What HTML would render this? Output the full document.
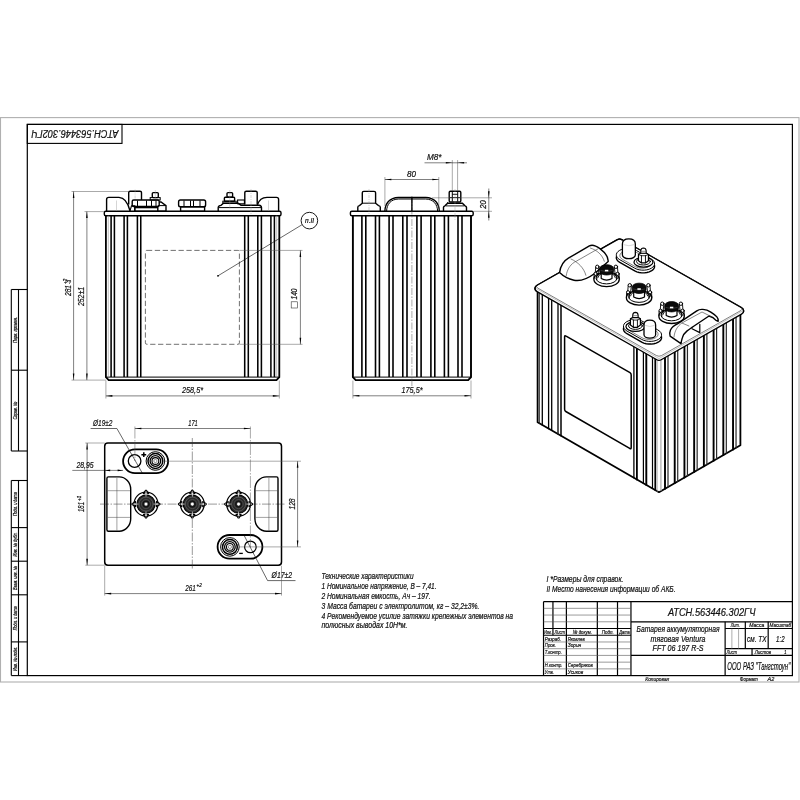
<!DOCTYPE html>
<html lang="ru"><head><meta charset="utf-8"><title>АТСН.563446.302ГЧ</title>
<style>
html,body{margin:0;padding:0;background:#fff;}
body{width:800px;height:800px;overflow:hidden;}
svg{display:block;font-family:"Liberation Sans",sans-serif;will-change:transform;}
text{stroke:#111;stroke-width:0.22px;paint-order:stroke;}
</style></head><body>
<svg width="800" height="800" viewBox="0 0 800 800">
<rect x="0" y="0" width="800" height="800" fill="#fff"/>
<rect x="0.50" y="117.60" width="798.50" height="564.40" rx="0" stroke="#b0b0b0" stroke-width="1.1" fill="none" />
<rect x="27.30" y="124.40" width="765.10" height="551.20" rx="0" stroke="#000" stroke-width="1.2" fill="none" />
<rect x="27.30" y="124.40" width="94.70" height="19.00" rx="0" stroke="#000" stroke-width="1.1" fill="none" />
<text x="0" y="0" font-size="10.5" font-style="italic" fill="#111" textLength="87" lengthAdjust="spacingAndGlyphs" transform="translate(118.5 130.2) rotate(180)">АТСН.563446.302ГЧ</text>
<line x1="11.30" y1="289.50" x2="11.30" y2="451.00" stroke="#000" stroke-width="1.1" />
<line x1="18.50" y1="289.50" x2="18.50" y2="451.00" stroke="#000" stroke-width="1.1" />
<line x1="11.30" y1="289.50" x2="27.30" y2="289.50" stroke="#000" stroke-width="1.1" />
<line x1="11.30" y1="370.20" x2="27.30" y2="370.20" stroke="#000" stroke-width="1.1" />
<line x1="11.30" y1="451.00" x2="27.30" y2="451.00" stroke="#000" stroke-width="1.1" />
<text x="0" y="0" font-size="5" font-style="italic" fill="#111" text-anchor="middle" textLength="26" lengthAdjust="spacingAndGlyphs" transform="translate(16.6 329.9) rotate(-90)">Перв. примен.</text>
<text x="0" y="0" font-size="5" font-style="italic" fill="#111" text-anchor="middle" textLength="18" lengthAdjust="spacingAndGlyphs" transform="translate(16.6 410.6) rotate(-90)">Справ. №</text>
<line x1="11.30" y1="480.50" x2="11.30" y2="675.60" stroke="#000" stroke-width="1.1" />
<line x1="18.50" y1="480.50" x2="18.50" y2="675.60" stroke="#000" stroke-width="1.1" />
<line x1="11.30" y1="480.50" x2="27.30" y2="480.50" stroke="#000" stroke-width="1.1" />
<line x1="11.30" y1="527.60" x2="27.30" y2="527.60" stroke="#000" stroke-width="1.1" />
<line x1="11.30" y1="561.20" x2="27.30" y2="561.20" stroke="#000" stroke-width="1.1" />
<line x1="11.30" y1="594.80" x2="27.30" y2="594.80" stroke="#000" stroke-width="1.1" />
<line x1="11.30" y1="641.90" x2="27.30" y2="641.90" stroke="#000" stroke-width="1.1" />
<line x1="11.30" y1="675.60" x2="27.30" y2="675.60" stroke="#000" stroke-width="1.1" />
<text x="0" y="0" font-size="5" font-style="italic" fill="#111" text-anchor="middle" textLength="24" lengthAdjust="spacingAndGlyphs" transform="translate(16.6 504.1) rotate(-90)">Подп. и дата</text>
<text x="0" y="0" font-size="5" font-style="italic" fill="#111" text-anchor="middle" textLength="24" lengthAdjust="spacingAndGlyphs" transform="translate(16.6 544.4) rotate(-90)">Инв. № дубл.</text>
<text x="0" y="0" font-size="5" font-style="italic" fill="#111" text-anchor="middle" textLength="24" lengthAdjust="spacingAndGlyphs" transform="translate(16.6 578.0) rotate(-90)">Взам. инв. №</text>
<text x="0" y="0" font-size="5" font-style="italic" fill="#111" text-anchor="middle" textLength="24" lengthAdjust="spacingAndGlyphs" transform="translate(16.6 618.3) rotate(-90)">Подп. и дата</text>
<text x="0" y="0" font-size="5" font-style="italic" fill="#111" text-anchor="middle" textLength="24" lengthAdjust="spacingAndGlyphs" transform="translate(16.6 658.8) rotate(-90)">Инв. № подл.</text>
<line x1="543.52" y1="601.61" x2="792.40" y2="601.61" stroke="#000" stroke-width="1.2" />
<line x1="543.52" y1="601.61" x2="543.52" y2="675.60" stroke="#000" stroke-width="1.2" />
<line x1="552.94" y1="601.61" x2="552.94" y2="635.24" stroke="#000" stroke-width="1.2" />
<line x1="566.39" y1="601.61" x2="566.39" y2="675.60" stroke="#000" stroke-width="1.2" />
<line x1="597.33" y1="601.61" x2="597.33" y2="675.60" stroke="#000" stroke-width="1.2" />
<line x1="617.51" y1="601.61" x2="617.51" y2="675.60" stroke="#000" stroke-width="1.2" />
<line x1="630.96" y1="601.61" x2="630.96" y2="675.60" stroke="#000" stroke-width="1.2" />
<line x1="543.52" y1="608.34" x2="630.96" y2="608.34" stroke="#555" stroke-width="0.6" />
<line x1="543.52" y1="615.06" x2="630.96" y2="615.06" stroke="#555" stroke-width="0.6" />
<line x1="543.52" y1="621.79" x2="630.96" y2="621.79" stroke="#555" stroke-width="0.6" />
<line x1="543.52" y1="628.51" x2="630.96" y2="628.51" stroke="#000" stroke-width="1.2" />
<line x1="543.52" y1="635.24" x2="630.96" y2="635.24" stroke="#000" stroke-width="1.2" />
<line x1="543.52" y1="641.97" x2="630.96" y2="641.97" stroke="#555" stroke-width="0.6" />
<line x1="543.52" y1="648.69" x2="630.96" y2="648.69" stroke="#555" stroke-width="0.6" />
<line x1="543.52" y1="655.42" x2="630.96" y2="655.42" stroke="#555" stroke-width="0.6" />
<line x1="543.52" y1="662.15" x2="630.96" y2="662.15" stroke="#555" stroke-width="0.6" />
<line x1="543.52" y1="668.87" x2="630.96" y2="668.87" stroke="#555" stroke-width="0.6" />
<line x1="630.96" y1="621.79" x2="792.40" y2="621.79" stroke="#000" stroke-width="1.2" />
<line x1="630.96" y1="655.42" x2="792.40" y2="655.42" stroke="#000" stroke-width="1.2" />
<line x1="725.13" y1="621.79" x2="725.13" y2="675.60" stroke="#000" stroke-width="1.2" />
<line x1="725.13" y1="628.51" x2="792.40" y2="628.51" stroke="#000" stroke-width="1.2" />
<line x1="725.13" y1="648.69" x2="792.40" y2="648.69" stroke="#000" stroke-width="1.2" />
<line x1="745.31" y1="621.79" x2="745.31" y2="648.69" stroke="#000" stroke-width="1.2" />
<line x1="768.18" y1="621.79" x2="768.18" y2="648.69" stroke="#000" stroke-width="1.2" />
<line x1="752.04" y1="648.69" x2="752.04" y2="655.42" stroke="#000" stroke-width="1.2" />
<line x1="731.86" y1="628.51" x2="731.86" y2="648.69" stroke="#777" stroke-width="0.6" />
<line x1="738.59" y1="628.51" x2="738.59" y2="648.69" stroke="#777" stroke-width="0.6" />
<text x="711.68" y="615.60" font-size="11" font-style="italic" text-anchor="middle" fill="#111" textLength="87.5" lengthAdjust="spacingAndGlyphs" >АТСН.563446.302ГЧ</text>
<text x="678.05" y="632.40" font-size="8.8" font-style="italic" text-anchor="middle" fill="#111" textLength="83.0" lengthAdjust="spacingAndGlyphs" >Батарея аккумуляторная</text>
<text x="678.05" y="641.60" font-size="8.8" font-style="italic" text-anchor="middle" fill="#111" textLength="55.0" lengthAdjust="spacingAndGlyphs" >тяговая Ventura</text>
<text x="678.05" y="650.80" font-size="8.8" font-style="italic" text-anchor="middle" fill="#111" textLength="51.0" lengthAdjust="spacingAndGlyphs" >FFT 06 197 R-S</text>
<text x="758.77" y="669.80" font-size="11" font-style="italic" text-anchor="middle" fill="#111" textLength="63.0" lengthAdjust="spacingAndGlyphs" >ООО РАЗ &quot;Тангстоун&quot;</text>
<text x="735.22" y="627.11" font-size="6.2" font-style="italic" text-anchor="middle" fill="#111" textLength="9.0" lengthAdjust="spacingAndGlyphs" >Лит.</text>
<text x="756.75" y="627.11" font-size="6.2" font-style="italic" text-anchor="middle" fill="#111" textLength="15.0" lengthAdjust="spacingAndGlyphs" >Масса</text>
<text x="780.29" y="627.11" font-size="6.2" font-style="italic" text-anchor="middle" fill="#111" textLength="21.5" lengthAdjust="spacingAndGlyphs" >Масштаб</text>
<text x="756.75" y="641.90" font-size="9.6" font-style="italic" text-anchor="middle" fill="#111" textLength="19.5" lengthAdjust="spacingAndGlyphs" >см. ТХ</text>
<text x="780.29" y="641.90" font-size="9.6" font-style="italic" text-anchor="middle" fill="#111" textLength="8.5" lengthAdjust="spacingAndGlyphs" >1:2</text>
<text x="726.48" y="654.02" font-size="6.2" font-style="italic" text-anchor="start" fill="#111" textLength="10.5" lengthAdjust="spacingAndGlyphs" >Лист</text>
<text x="754.73" y="654.02" font-size="6.2" font-style="italic" text-anchor="start" fill="#111" textLength="16.5" lengthAdjust="spacingAndGlyphs" >Листов</text>
<text x="784.33" y="654.02" font-size="6.2" font-style="italic" text-anchor="start" fill="#111" textLength="2.2" lengthAdjust="spacingAndGlyphs" >1</text>
<text x="544.19" y="633.84" font-size="6.2" font-style="italic" text-anchor="start" fill="#111" textLength="7.6" lengthAdjust="spacingAndGlyphs" >Изм.</text>
<text x="554.42" y="633.84" font-size="6.2" font-style="italic" text-anchor="start" fill="#111" textLength="10.5" lengthAdjust="spacingAndGlyphs" >Лист</text>
<text x="572.85" y="633.84" font-size="6.2" font-style="italic" text-anchor="start" fill="#111" textLength="19.0" lengthAdjust="spacingAndGlyphs" >№ докум.</text>
<text x="601.77" y="633.84" font-size="6.2" font-style="italic" text-anchor="start" fill="#111" textLength="12.0" lengthAdjust="spacingAndGlyphs" >Подп.</text>
<text x="619.26" y="633.84" font-size="6.2" font-style="italic" text-anchor="start" fill="#111" textLength="10.5" lengthAdjust="spacingAndGlyphs" >Дата</text>
<text x="544.86" y="640.57" font-size="6.2" font-style="italic" text-anchor="start" fill="#111" textLength="16.0" lengthAdjust="spacingAndGlyphs" >Разраб.</text>
<text x="544.86" y="647.29" font-size="6.2" font-style="italic" text-anchor="start" fill="#111" textLength="11.0" lengthAdjust="spacingAndGlyphs" >Пров.</text>
<text x="544.86" y="654.02" font-size="6.2" font-style="italic" text-anchor="start" fill="#111" textLength="17.0" lengthAdjust="spacingAndGlyphs" >Т.контр.</text>
<text x="544.86" y="667.47" font-size="6.2" font-style="italic" text-anchor="start" fill="#111" textLength="17.5" lengthAdjust="spacingAndGlyphs" >Н.контр.</text>
<text x="544.86" y="674.20" font-size="6.2" font-style="italic" text-anchor="start" fill="#111" textLength="9.0" lengthAdjust="spacingAndGlyphs" >Утв.</text>
<text x="567.73" y="640.57" font-size="6.2" font-style="italic" text-anchor="start" fill="#111" textLength="17.0" lengthAdjust="spacingAndGlyphs" >Яковлев</text>
<text x="567.73" y="647.29" font-size="6.2" font-style="italic" text-anchor="start" fill="#111" textLength="13.5" lengthAdjust="spacingAndGlyphs" >Зорин</text>
<text x="567.73" y="667.47" font-size="6.2" font-style="italic" text-anchor="start" fill="#111" textLength="25.0" lengthAdjust="spacingAndGlyphs" >Серебряков</text>
<text x="567.73" y="674.20" font-size="6.2" font-style="italic" text-anchor="start" fill="#111" textLength="15.5" lengthAdjust="spacingAndGlyphs" >Усиков</text>
<text x="645.30" y="681.40" font-size="6.2" font-style="italic" text-anchor="start" fill="#111" textLength="24.0" lengthAdjust="spacingAndGlyphs" >Копировал</text>
<text x="739.80" y="681.40" font-size="6.2" font-style="italic" text-anchor="start" fill="#111" textLength="18.0" lengthAdjust="spacingAndGlyphs" >Формат</text>
<text x="767.50" y="681.40" font-size="6.2" font-style="italic" text-anchor="start" fill="#111" textLength="6.8" lengthAdjust="spacingAndGlyphs" >А2</text>
<g id="front">
<rect x="104.30" y="211.30" width="176.70" height="4.40" rx="1.5" stroke="#000" stroke-width="1.4" fill="none" />
<path d="M105.9,215.7 L105.9,377.1 L108.7,380.1 L276.5,380.1 L279.3,377.1 L279.3,215.7" stroke="#000" stroke-width="1.8" fill="none" />
<line x1="106.40" y1="377.10" x2="278.80" y2="377.10" stroke="#000" stroke-width="1.0" />
<line x1="108.30" y1="215.70" x2="108.30" y2="377.10" stroke="#999" stroke-width="0.6" />
<line x1="111.10" y1="215.70" x2="111.10" y2="377.10" stroke="#000" stroke-width="1.55" />
<line x1="114.40" y1="215.70" x2="114.40" y2="377.10" stroke="#000" stroke-width="1.55" />
<line x1="124.10" y1="215.70" x2="124.10" y2="377.10" stroke="#000" stroke-width="1.55" />
<line x1="127.40" y1="215.70" x2="127.40" y2="377.10" stroke="#000" stroke-width="1.55" />
<line x1="137.40" y1="215.70" x2="137.40" y2="377.10" stroke="#000" stroke-width="1.55" />
<line x1="140.75" y1="215.70" x2="140.75" y2="377.10" stroke="#000" stroke-width="1.55" />
<line x1="244.70" y1="215.70" x2="244.70" y2="377.10" stroke="#000" stroke-width="1.55" />
<line x1="248.30" y1="215.70" x2="248.30" y2="377.10" stroke="#000" stroke-width="1.55" />
<line x1="257.80" y1="215.70" x2="257.80" y2="377.10" stroke="#000" stroke-width="1.55" />
<line x1="261.40" y1="215.70" x2="261.40" y2="377.10" stroke="#000" stroke-width="1.55" />
<line x1="270.90" y1="215.70" x2="270.90" y2="377.10" stroke="#000" stroke-width="1.55" />
<line x1="274.40" y1="215.70" x2="274.40" y2="377.10" stroke="#000" stroke-width="1.55" />
<line x1="276.70" y1="215.70" x2="276.70" y2="377.10" stroke="#999" stroke-width="0.6" />
<path d="M146.9,250.4 H237.9 Q239.4,250.4 239.4,251.9 V342.8 Q239.4,344.3 237.9,344.3 H146.9 Q145.4,344.3 145.4,342.8 V251.9 Q145.4,250.4 146.9,250.4 Z" stroke="#333" stroke-width="0.7" fill="none" stroke-dasharray="5.3 2.6"/>
<path d="M106.6,211.3 V199.5 Q106.6,197.4 108.8,197.4 H119 C125,197.6 128,203 130,210.8" stroke="#000" stroke-width="1.4" fill="none" />
<line x1="116.50" y1="200.50" x2="116.50" y2="210.50" stroke="#aaa" stroke-width="0.5" />
<path d="M128.7,204.5 V192.6 Q128.7,191.2 130.2,191.2 H140 Q141.5,191.2 141.5,192.6 V200" stroke="#000" stroke-width="1.4" fill="none" />
<line x1="135.10" y1="189.50" x2="135.10" y2="200.00" stroke="#999" stroke-width="0.4" stroke-dasharray="3 1 1 1"/>
<rect x="132.20" y="200.00" width="27.00" height="6.50" rx="1.5" stroke="#000" stroke-width="1.4" fill="none" />
<line x1="137.50" y1="200.50" x2="137.50" y2="206.00" stroke="#000" stroke-width="1.0" />
<line x1="146.50" y1="200.50" x2="146.50" y2="206.00" stroke="#000" stroke-width="1.0" />
<line x1="151.50" y1="200.50" x2="151.50" y2="206.00" stroke="#000" stroke-width="1.0" />
<line x1="156.00" y1="200.50" x2="156.00" y2="206.00" stroke="#000" stroke-width="1.0" />
<rect x="152.30" y="192.60" width="6.00" height="5.00" rx="1" stroke="#000" stroke-width="1.4" fill="none" />
<rect x="150.20" y="197.60" width="10.00" height="2.40" rx="0" stroke="#000" stroke-width="1.0" fill="none" />
<line x1="155.30" y1="190.00" x2="155.30" y2="199.00" stroke="#999" stroke-width="0.4" />
<path d="M130,210.8 L131.5,205.8 H134.8 V211.3" stroke="#000" stroke-width="1.1" fill="none" />
<rect x="134.80" y="207.60" width="23.00" height="3.70" rx="0" stroke="#000" stroke-width="1.4" fill="none" />
<path d="M159.2,202.0 H161 L166,205.6 V211.3 H157.8" stroke="#000" stroke-width="1.4" fill="none" />
<line x1="157.80" y1="205.60" x2="166.00" y2="205.60" stroke="#000" stroke-width="1.0" />
<rect x="178.60" y="200.00" width="27.00" height="6.80" rx="1.8" stroke="#000" stroke-width="1.4" fill="none" />
<line x1="184.00" y1="200.50" x2="184.00" y2="206.50" stroke="#000" stroke-width="1.0" />
<line x1="190.50" y1="200.50" x2="190.50" y2="206.50" stroke="#000" stroke-width="1.0" />
<line x1="193.50" y1="200.50" x2="193.50" y2="206.50" stroke="#000" stroke-width="1.0" />
<line x1="200.00" y1="200.50" x2="200.00" y2="206.50" stroke="#000" stroke-width="1.0" />
<rect x="180.60" y="206.80" width="24.00" height="4.50" rx="0" stroke="#000" stroke-width="1.4" fill="none" />
<path d="M218.2,211.3 V207.5 Q218.5,205.6 221,205.4 L223.5,203.2 H238 L241,205.2 H259 Q261.4,205.6 261.5,207.5 V211.3" stroke="#000" stroke-width="1.4" fill="none" />
<line x1="219.00" y1="207.60" x2="261.00" y2="207.60" stroke="#000" stroke-width="1.0" />
<rect x="227.00" y="192.60" width="5.60" height="4.60" rx="1" stroke="#000" stroke-width="1.4" fill="none" />
<rect x="224.40" y="197.20" width="10.20" height="4.00" rx="0.8" stroke="#000" stroke-width="1.4" fill="none" />
<rect x="222.80" y="201.20" width="13.40" height="2.00" rx="0" stroke="#000" stroke-width="1.0" fill="none" />
<line x1="229.80" y1="190.00" x2="229.80" y2="208.50" stroke="#999" stroke-width="0.4" />
<rect x="237.60" y="200.00" width="6.80" height="3.80" rx="0" stroke="#000" stroke-width="1.1" fill="none" />
<path d="M244.8,204.6 V192.6 Q244.8,191.2 246.3,191.2 H255.7 Q257.2,191.2 257.2,192.6 V204.6" stroke="#000" stroke-width="1.4" fill="none" />
<line x1="251.00" y1="189.00" x2="251.00" y2="214.00" stroke="#999" stroke-width="0.4" stroke-dasharray="3 1 1 1"/>
<path d="M257.4,204.8 C259,200 262,197.6 267,197.4 H276.4 Q278.6,197.4 278.6,199.5 V211.3" stroke="#000" stroke-width="1.4" fill="none" />
<line x1="268.50" y1="200.50" x2="268.50" y2="210.50" stroke="#aaa" stroke-width="0.5" />
<line x1="218.00" y1="275.80" x2="301.90" y2="224.80" stroke="#000" stroke-width="0.6" />
<circle cx="218.00" cy="275.80" r="0.90" stroke="none" stroke-width="0" fill="#000" />
<circle cx="309.40" cy="220.60" r="8.30" stroke="#000" stroke-width="0.9" fill="none" />
<text x="309.60" y="223.20" font-size="6.5" font-style="italic" text-anchor="middle" fill="#111" textLength="9.0" lengthAdjust="spacingAndGlyphs" >п.II</text>
<line x1="71.50" y1="191.50" x2="128.50" y2="191.50" stroke="#555" stroke-width="0.5" />
<line x1="84.50" y1="211.60" x2="104.30" y2="211.60" stroke="#555" stroke-width="0.5" />
<line x1="71.50" y1="380.10" x2="105.90" y2="380.10" stroke="#555" stroke-width="0.5" />
<line x1="73.60" y1="191.50" x2="73.60" y2="380.10" stroke="#000" stroke-width="0.5" />
<polygon points="73.60,191.50 74.40,198.00 72.80,198.00" fill="#000"/>
<polygon points="73.60,380.10 72.80,373.60 74.40,373.60" fill="#000"/>
<line x1="86.90" y1="211.60" x2="86.90" y2="380.10" stroke="#000" stroke-width="0.5" />
<polygon points="86.90,211.60 87.70,218.10 86.10,218.10" fill="#000"/>
<polygon points="86.90,380.10 86.10,373.60 87.70,373.60" fill="#000"/>
<line x1="105.90" y1="380.50" x2="105.90" y2="398.50" stroke="#555" stroke-width="0.5" />
<line x1="279.30" y1="380.50" x2="279.30" y2="398.50" stroke="#555" stroke-width="0.5" />
<line x1="105.90" y1="395.90" x2="279.30" y2="395.90" stroke="#000" stroke-width="0.5" />
<polygon points="105.90,395.90 112.40,395.10 112.40,396.70" fill="#000"/>
<polygon points="279.30,395.90 272.80,396.70 272.80,395.10" fill="#000"/>
<text x="192.50" y="392.60" font-size="9.6" font-style="italic" text-anchor="middle" fill="#111" textLength="21.0" lengthAdjust="spacingAndGlyphs" >258,5*</text>
<line x1="239.40" y1="250.40" x2="302.50" y2="250.40" stroke="#555" stroke-width="0.5" />
<line x1="239.40" y1="344.30" x2="302.50" y2="344.30" stroke="#555" stroke-width="0.5" />
<line x1="300.40" y1="250.40" x2="300.40" y2="344.30" stroke="#000" stroke-width="0.5" />
<polygon points="300.40,250.40 301.20,256.90 299.60,256.90" fill="#000"/>
<polygon points="300.40,344.30 299.60,337.80 301.20,337.80" fill="#000"/>
<text x="0" y="0" font-size="9.6" font-style="italic" fill="#111" textLength="11" lengthAdjust="spacingAndGlyphs" transform="translate(297.3 299.5) rotate(-90)">140</text>
<rect x="291.20" y="301.80" width="6.20" height="6.20" rx="0" stroke="#333" stroke-width="0.6" fill="none" />
<text x="0" y="0" font-size="9.6" font-style="italic" fill="#111" textLength="11" lengthAdjust="spacingAndGlyphs" transform="translate(70.6 296) rotate(-90)">281</text>
<text x="0" y="0" font-size="4.5" font-style="italic" fill="#111" transform="translate(66.5 284) rotate(-90)">+2</text>
<text x="0" y="0" font-size="4.5" font-style="italic" fill="#111" transform="translate(71 284) rotate(-90)">-3</text>
<text x="0" y="0" font-size="9.6" font-style="italic" fill="#111" textLength="19" lengthAdjust="spacingAndGlyphs" transform="translate(84.2 306) rotate(-90)">252±1</text>
</g>
<g id="side">
<rect x="350.40" y="211.30" width="122.80" height="4.40" rx="1.5" stroke="#000" stroke-width="1.4" fill="none" />
<path d="M352.9,215.7 L352.9,377.1 L355.7,380.1 L468.2,380.1 L471.0,377.1 L471.0,215.7" stroke="#000" stroke-width="1.9" fill="none" />
<line x1="353.40" y1="377.10" x2="470.50" y2="377.10" stroke="#000" stroke-width="1.0" />
<line x1="361.90" y1="215.70" x2="361.90" y2="377.10" stroke="#000" stroke-width="1.6" />
<line x1="365.80" y1="215.70" x2="365.80" y2="377.10" stroke="#000" stroke-width="1.6" />
<line x1="375.50" y1="215.70" x2="375.50" y2="377.10" stroke="#000" stroke-width="1.6" />
<line x1="379.40" y1="215.70" x2="379.40" y2="377.10" stroke="#000" stroke-width="1.6" />
<line x1="389.10" y1="215.70" x2="389.10" y2="377.10" stroke="#000" stroke-width="1.6" />
<line x1="393.00" y1="215.70" x2="393.00" y2="377.10" stroke="#000" stroke-width="1.6" />
<line x1="402.80" y1="215.70" x2="402.80" y2="377.10" stroke="#000" stroke-width="1.6" />
<line x1="407.00" y1="215.70" x2="407.00" y2="377.10" stroke="#000" stroke-width="1.6" />
<line x1="416.90" y1="215.70" x2="416.90" y2="377.10" stroke="#000" stroke-width="1.6" />
<line x1="421.10" y1="215.70" x2="421.10" y2="377.10" stroke="#000" stroke-width="1.6" />
<line x1="430.90" y1="215.70" x2="430.90" y2="377.10" stroke="#000" stroke-width="1.6" />
<line x1="434.80" y1="215.70" x2="434.80" y2="377.10" stroke="#000" stroke-width="1.6" />
<line x1="444.40" y1="215.70" x2="444.40" y2="377.10" stroke="#000" stroke-width="1.6" />
<line x1="448.40" y1="215.70" x2="448.40" y2="377.10" stroke="#000" stroke-width="1.6" />
<line x1="458.00" y1="215.70" x2="458.00" y2="377.10" stroke="#000" stroke-width="1.6" />
<line x1="462.00" y1="215.70" x2="462.00" y2="377.10" stroke="#000" stroke-width="1.6" />
<line x1="411.90" y1="196.00" x2="411.90" y2="386.00" stroke="#555" stroke-width="0.5" stroke-dasharray="7 1.5 1.5 1.5"/>
<path d="M357.8,211.3 V207.2 Q357.8,205.8 359.5,205.6 L362.3,203.2 V192.8 Q362.3,191.4 363.8,191.4 H374.1 Q375.6,191.4 375.6,192.8 V203.2 L378.5,205.6 Q380.3,205.8 380.3,207.2 V211.3" stroke="#000" stroke-width="1.4" fill="none" />
<line x1="362.30" y1="203.20" x2="375.60" y2="203.20" stroke="#000" stroke-width="1.0" />
<line x1="369.00" y1="189.00" x2="369.00" y2="214.00" stroke="#999" stroke-width="0.4" stroke-dasharray="3 1 1 1"/>
<path d="M384.9,211.3 C385,203.5 389.5,197.7 398.5,197.5 H425.7 C434.7,197.7 439.2,203.5 439.3,211.3" stroke="#000" stroke-width="1.4" fill="none" />
<path d="M386.6,211.3 C386.7,204.3 390.8,199.1 398.7,199.0 H425.5 C433.4,199.1 437.5,204.3 437.6,211.3" stroke="#000" stroke-width="1.0" fill="none" />
<line x1="411.90" y1="197.50" x2="411.90" y2="211.30" stroke="#000" stroke-width="1.4" />
<rect x="449.20" y="191.20" width="11.60" height="10.80" rx="1.2" stroke="#000" stroke-width="1.4" fill="none" />
<line x1="452.30" y1="192.00" x2="452.30" y2="201.50" stroke="#000" stroke-width="1.0" />
<line x1="457.70" y1="192.00" x2="457.70" y2="201.50" stroke="#000" stroke-width="1.0" />
<line x1="452.30" y1="194.30" x2="457.70" y2="194.30" stroke="#000" stroke-width="0.9" />
<line x1="449.50" y1="197.60" x2="460.50" y2="197.60" stroke="#000" stroke-width="0.9" />
<path d="M443.5,211.3 V207.4 Q443.6,206.2 445,205.8 L447.6,203.2 H462.4 L465,205.8 Q466.4,206.2 466.5,207.4 V211.3" stroke="#000" stroke-width="1.4" fill="none" />
<line x1="447.60" y1="203.20" x2="447.60" y2="202.20" stroke="#000" stroke-width="1.0" />
<line x1="446.00" y1="205.90" x2="464.00" y2="205.90" stroke="#000" stroke-width="0.9" />
<line x1="455.00" y1="189.00" x2="455.00" y2="220.00" stroke="#999" stroke-width="0.4" stroke-dasharray="3 1 1 1"/>
<line x1="384.90" y1="177.00" x2="384.90" y2="206.00" stroke="#555" stroke-width="0.5" />
<line x1="438.80" y1="177.00" x2="438.80" y2="209.00" stroke="#555" stroke-width="0.5" />
<line x1="384.90" y1="179.50" x2="438.80" y2="179.50" stroke="#000" stroke-width="0.5" />
<polygon points="384.90,179.50 391.40,178.70 391.40,180.30" fill="#000"/>
<polygon points="438.80,179.50 432.30,180.30 432.30,178.70" fill="#000"/>
<text x="411.50" y="176.60" font-size="9.6" font-style="italic" text-anchor="middle" fill="#111" textLength="9.0" lengthAdjust="spacingAndGlyphs" >80</text>
<line x1="452.30" y1="160.00" x2="452.30" y2="191.00" stroke="#555" stroke-width="0.5" />
<line x1="457.60" y1="160.00" x2="457.60" y2="191.00" stroke="#555" stroke-width="0.5" />
<line x1="424.50" y1="162.80" x2="467.00" y2="162.80" stroke="#000" stroke-width="0.5" />
<polygon points="452.30,162.80 445.80,163.60 445.80,162.00" fill="#000"/>
<polygon points="457.60,162.80 464.10,162.00 464.10,163.60" fill="#000"/>
<text x="427.00" y="160.00" font-size="9.6" font-style="italic" text-anchor="start" fill="#111" textLength="14.5" lengthAdjust="spacingAndGlyphs" >М8*</text>
<line x1="432.00" y1="197.80" x2="492.00" y2="197.80" stroke="#555" stroke-width="0.5" />
<line x1="473.50" y1="211.30" x2="492.00" y2="211.30" stroke="#555" stroke-width="0.5" />
<line x1="488.80" y1="188.50" x2="488.80" y2="220.50" stroke="#000" stroke-width="0.5" />
<polygon points="488.80,197.80 488.00,191.30 489.60,191.30" fill="#000"/>
<polygon points="488.80,211.30 489.60,217.80 488.00,217.80" fill="#000"/>
<text x="0" y="0" font-size="9.6" font-style="italic" fill="#111" textLength="8.5" lengthAdjust="spacingAndGlyphs" transform="translate(486 208.8) rotate(-90)">20</text>
<line x1="352.90" y1="380.50" x2="352.90" y2="398.50" stroke="#555" stroke-width="0.5" />
<line x1="471.00" y1="380.50" x2="471.00" y2="398.50" stroke="#555" stroke-width="0.5" />
<line x1="352.90" y1="395.80" x2="471.00" y2="395.80" stroke="#000" stroke-width="0.5" />
<polygon points="352.90,395.80 359.40,395.00 359.40,396.60" fill="#000"/>
<polygon points="471.00,395.80 464.50,396.60 464.50,395.00" fill="#000"/>
<text x="412.00" y="392.60" font-size="9.6" font-style="italic" text-anchor="middle" fill="#111" textLength="21.0" lengthAdjust="spacingAndGlyphs" >175,5*</text>
</g>
<g id="plan">
<rect x="104.70" y="443.00" width="176.80" height="122.20" rx="3.2" stroke="#000" stroke-width="1.5" fill="none" />
<line x1="100.00" y1="504.10" x2="286.00" y2="504.10" stroke="#333" stroke-width="0.5" stroke-dasharray="9 1.5 1.5 1.5"/>
<line x1="192.30" y1="438.00" x2="192.30" y2="570.00" stroke="#333" stroke-width="0.5" stroke-dasharray="9 1.5 1.5 1.5"/>
<path d="M108.4,476.9 H119.19999999999999 A11.5,12.5 0 0 1 130.7,489.4 V518.7 A11.5,12.5 0 0 1 119.19999999999999,531.2 H108.4 Q106.9,531.2 106.9,529.7 V478.4 Q106.9,476.9 108.4,476.9 Z" stroke="#000" stroke-width="1.4" fill="none" />
<path d="M276.5,476.9 H266.4 A11.5,12.5 0 0 0 254.9,489.4 V518.7 A11.5,12.5 0 0 0 266.4,531.2 H276.5 Q278.0,531.2 278.0,529.7 V478.4 Q278.0,476.9 276.5,476.9 Z" stroke="#000" stroke-width="1.4" fill="none" />
<line x1="116.90" y1="478.00" x2="116.90" y2="530.50" stroke="#444" stroke-width="0.5" />
<line x1="107.50" y1="490.70" x2="130.00" y2="490.70" stroke="#444" stroke-width="0.5" />
<line x1="107.50" y1="517.40" x2="130.00" y2="517.40" stroke="#444" stroke-width="0.5" />
<line x1="268.90" y1="478.00" x2="268.90" y2="530.50" stroke="#444" stroke-width="0.5" />
<line x1="255.50" y1="490.70" x2="277.40" y2="490.70" stroke="#444" stroke-width="0.5" />
<line x1="255.50" y1="517.40" x2="277.40" y2="517.40" stroke="#444" stroke-width="0.5" />
<g transform="rotate(0 146.0 504.1)"><path d="M143.4,493.70000000000005 L145.5,490.20000000000005 H146.5 L148.6,493.70000000000005 Z" stroke="#000" stroke-width="1.1" fill="#fff" stroke-linejoin="round"/></g>
<g transform="rotate(90 146.0 504.1)"><path d="M143.4,493.70000000000005 L145.5,490.20000000000005 H146.5 L148.6,493.70000000000005 Z" stroke="#000" stroke-width="1.1" fill="#fff" stroke-linejoin="round"/></g>
<g transform="rotate(180 146.0 504.1)"><path d="M143.4,493.70000000000005 L145.5,490.20000000000005 H146.5 L148.6,493.70000000000005 Z" stroke="#000" stroke-width="1.1" fill="#fff" stroke-linejoin="round"/></g>
<g transform="rotate(270 146.0 504.1)"><path d="M143.4,493.70000000000005 L145.5,490.20000000000005 H146.5 L148.6,493.70000000000005 Z" stroke="#000" stroke-width="1.1" fill="#fff" stroke-linejoin="round"/></g>
<circle cx="146.00" cy="504.10" r="12.00" stroke="#000" stroke-width="1.25" fill="none" />
<circle cx="146.00" cy="504.10" r="9.10" stroke="#000" stroke-width="1.1" fill="#2a2a2a" />
<circle cx="146.00" cy="504.10" r="7.00" stroke="#6a6a6a" stroke-width="0.7" fill="none" />
<circle cx="146.00" cy="504.10" r="4.60" stroke="#555" stroke-width="0.7" fill="none" />
<circle cx="146.00" cy="504.10" r="3.00" stroke="#000" stroke-width="0.6" fill="none" />
<circle cx="146.00" cy="504.10" r="1.80" stroke="#000" stroke-width="0.3" fill="#fff" />
<g transform="rotate(0 146.0 504.1)"><path d="M145.1,492.5 L146.0,497.5 L146.9,492.5 Z" fill="#e8e8e8"/></g>
<g transform="rotate(90 146.0 504.1)"><path d="M145.1,492.5 L146.0,497.5 L146.9,492.5 Z" fill="#e8e8e8"/></g>
<g transform="rotate(180 146.0 504.1)"><path d="M145.1,492.5 L146.0,497.5 L146.9,492.5 Z" fill="#e8e8e8"/></g>
<g transform="rotate(270 146.0 504.1)"><path d="M145.1,492.5 L146.0,497.5 L146.9,492.5 Z" fill="#e8e8e8"/></g>
<g transform="rotate(0 192.3 504.1)"><path d="M189.70000000000002,493.70000000000005 L191.8,490.20000000000005 H192.8 L194.9,493.70000000000005 Z" stroke="#000" stroke-width="1.1" fill="#fff" stroke-linejoin="round"/></g>
<g transform="rotate(90 192.3 504.1)"><path d="M189.70000000000002,493.70000000000005 L191.8,490.20000000000005 H192.8 L194.9,493.70000000000005 Z" stroke="#000" stroke-width="1.1" fill="#fff" stroke-linejoin="round"/></g>
<g transform="rotate(180 192.3 504.1)"><path d="M189.70000000000002,493.70000000000005 L191.8,490.20000000000005 H192.8 L194.9,493.70000000000005 Z" stroke="#000" stroke-width="1.1" fill="#fff" stroke-linejoin="round"/></g>
<g transform="rotate(270 192.3 504.1)"><path d="M189.70000000000002,493.70000000000005 L191.8,490.20000000000005 H192.8 L194.9,493.70000000000005 Z" stroke="#000" stroke-width="1.1" fill="#fff" stroke-linejoin="round"/></g>
<circle cx="192.30" cy="504.10" r="12.00" stroke="#000" stroke-width="1.25" fill="none" />
<circle cx="192.30" cy="504.10" r="9.10" stroke="#000" stroke-width="1.1" fill="#2a2a2a" />
<circle cx="192.30" cy="504.10" r="7.00" stroke="#6a6a6a" stroke-width="0.7" fill="none" />
<circle cx="192.30" cy="504.10" r="4.60" stroke="#555" stroke-width="0.7" fill="none" />
<circle cx="192.30" cy="504.10" r="3.00" stroke="#000" stroke-width="0.6" fill="none" />
<circle cx="192.30" cy="504.10" r="1.80" stroke="#000" stroke-width="0.3" fill="#fff" />
<g transform="rotate(0 192.3 504.1)"><path d="M191.4,492.5 L192.3,497.5 L193.20000000000002,492.5 Z" fill="#e8e8e8"/></g>
<g transform="rotate(90 192.3 504.1)"><path d="M191.4,492.5 L192.3,497.5 L193.20000000000002,492.5 Z" fill="#e8e8e8"/></g>
<g transform="rotate(180 192.3 504.1)"><path d="M191.4,492.5 L192.3,497.5 L193.20000000000002,492.5 Z" fill="#e8e8e8"/></g>
<g transform="rotate(270 192.3 504.1)"><path d="M191.4,492.5 L192.3,497.5 L193.20000000000002,492.5 Z" fill="#e8e8e8"/></g>
<g transform="rotate(0 238.6 504.1)"><path d="M236.0,493.70000000000005 L238.1,490.20000000000005 H239.1 L241.2,493.70000000000005 Z" stroke="#000" stroke-width="1.1" fill="#fff" stroke-linejoin="round"/></g>
<g transform="rotate(90 238.6 504.1)"><path d="M236.0,493.70000000000005 L238.1,490.20000000000005 H239.1 L241.2,493.70000000000005 Z" stroke="#000" stroke-width="1.1" fill="#fff" stroke-linejoin="round"/></g>
<g transform="rotate(180 238.6 504.1)"><path d="M236.0,493.70000000000005 L238.1,490.20000000000005 H239.1 L241.2,493.70000000000005 Z" stroke="#000" stroke-width="1.1" fill="#fff" stroke-linejoin="round"/></g>
<g transform="rotate(270 238.6 504.1)"><path d="M236.0,493.70000000000005 L238.1,490.20000000000005 H239.1 L241.2,493.70000000000005 Z" stroke="#000" stroke-width="1.1" fill="#fff" stroke-linejoin="round"/></g>
<circle cx="238.60" cy="504.10" r="12.00" stroke="#000" stroke-width="1.25" fill="none" />
<circle cx="238.60" cy="504.10" r="9.10" stroke="#000" stroke-width="1.1" fill="#2a2a2a" />
<circle cx="238.60" cy="504.10" r="7.00" stroke="#6a6a6a" stroke-width="0.7" fill="none" />
<circle cx="238.60" cy="504.10" r="4.60" stroke="#555" stroke-width="0.7" fill="none" />
<circle cx="238.60" cy="504.10" r="3.00" stroke="#000" stroke-width="0.6" fill="none" />
<circle cx="238.60" cy="504.10" r="1.80" stroke="#000" stroke-width="0.3" fill="#fff" />
<g transform="rotate(0 238.6 504.1)"><path d="M237.7,492.5 L238.6,497.5 L239.5,492.5 Z" fill="#e8e8e8"/></g>
<g transform="rotate(90 238.6 504.1)"><path d="M237.7,492.5 L238.6,497.5 L239.5,492.5 Z" fill="#e8e8e8"/></g>
<g transform="rotate(180 238.6 504.1)"><path d="M237.7,492.5 L238.6,497.5 L239.5,492.5 Z" fill="#e8e8e8"/></g>
<g transform="rotate(270 238.6 504.1)"><path d="M237.7,492.5 L238.6,497.5 L239.5,492.5 Z" fill="#e8e8e8"/></g>
<path d="M134.95000000000002,449.4 H156.24999999999997 A11.850000000000023,11.850000000000023 0 0 1 156.24999999999997,473.1 H134.95000000000002 A11.850000000000023,11.850000000000023 0 0 1 134.95000000000002,449.4 Z" stroke="#000" stroke-width="1.8" fill="none" />
<circle cx="134.60" cy="461.00" r="6.30" stroke="#000" stroke-width="1.3" fill="none" />
<circle cx="155.40" cy="461.00" r="9.30" stroke="#000" stroke-width="1.0" fill="none" />
<circle cx="155.40" cy="461.00" r="7.40" stroke="#000" stroke-width="1.5" fill="none" />
<circle cx="155.40" cy="461.00" r="5.30" stroke="#000" stroke-width="1.3" fill="none" />
<circle cx="155.40" cy="461.00" r="3.40" stroke="#000" stroke-width="1.1" fill="none" />
<circle cx="155.40" cy="461.00" r="1.60" stroke="#000" stroke-width="0.4" fill="#fff" />
<path d="M141.4,454.7 H146.2 M143.8,452.3 V457.1" stroke="#000" stroke-width="1.5" fill="none" />
<path d="M229.45000000000002,535.0 H250.54999999999995 A11.850000000000023,11.850000000000023 0 0 1 250.54999999999995,558.7 H229.45000000000002 A11.850000000000023,11.850000000000023 0 0 1 229.45000000000002,535.0 Z" stroke="#000" stroke-width="1.8" fill="none" />
<circle cx="250.40" cy="546.90" r="5.80" stroke="#000" stroke-width="1.2" fill="none" />
<circle cx="229.90" cy="546.90" r="9.30" stroke="#000" stroke-width="1.0" fill="none" />
<circle cx="229.90" cy="546.90" r="7.40" stroke="#000" stroke-width="1.5" fill="none" />
<circle cx="229.90" cy="546.90" r="5.30" stroke="#000" stroke-width="1.3" fill="none" />
<circle cx="229.90" cy="546.90" r="3.40" stroke="#000" stroke-width="1.1" fill="none" />
<circle cx="229.90" cy="546.90" r="1.60" stroke="#000" stroke-width="0.4" fill="#fff" />
<line x1="239.20" y1="553.40" x2="242.80" y2="553.40" stroke="#000" stroke-width="1.3" />
<line x1="164.50" y1="461.20" x2="301.00" y2="461.20" stroke="#555" stroke-width="0.5" />
<line x1="239.00" y1="546.90" x2="301.00" y2="546.90" stroke="#555" stroke-width="0.5" />
<line x1="297.60" y1="461.20" x2="297.60" y2="546.90" stroke="#000" stroke-width="0.5" />
<polygon points="297.60,461.20 298.40,467.70 296.80,467.70" fill="#000"/>
<polygon points="297.60,546.90 296.80,540.40 298.40,540.40" fill="#000"/>
<text x="0" y="0" font-size="9.6" font-style="italic" fill="#111" textLength="11" lengthAdjust="spacingAndGlyphs" transform="translate(295 509.5) rotate(-90)">128</text>
<line x1="134.90" y1="426.50" x2="134.90" y2="461.00" stroke="#555" stroke-width="0.5" stroke-dasharray="12 1.5 1.5 1.5"/>
<line x1="250.40" y1="426.50" x2="250.40" y2="547.00" stroke="#555" stroke-width="0.5" stroke-dasharray="12 1.5 1.5 1.5"/>
<line x1="134.90" y1="428.50" x2="250.40" y2="428.50" stroke="#000" stroke-width="0.5" />
<polygon points="134.90,428.50 141.40,427.70 141.40,429.30" fill="#000"/>
<polygon points="250.40,428.50 243.90,429.30 243.90,427.70" fill="#000"/>
<text x="193.00" y="425.60" font-size="9.6" font-style="italic" text-anchor="middle" fill="#111" textLength="9.5" lengthAdjust="spacingAndGlyphs" >171</text>
<path d="M90.6,428.5 H116.9 L142.3,473.1" stroke="#000" stroke-width="0.6" fill="none" />
<text x="93.00" y="425.60" font-size="9.6" font-style="italic" text-anchor="start" fill="#111" textLength="19.5" lengthAdjust="spacingAndGlyphs" >Ø19±2</text>
<path d="M243.9,535 L267.6,580.6 H295.5" stroke="#000" stroke-width="0.6" fill="none" />
<text x="271.60" y="577.80" font-size="9.6" font-style="italic" text-anchor="start" fill="#111" textLength="20.5" lengthAdjust="spacingAndGlyphs" >Ø17±2</text>
<line x1="72.30" y1="470.40" x2="123.10" y2="470.40" stroke="#000" stroke-width="0.5" />
<polygon points="104.70,470.40 110.20,469.60 110.20,471.20" fill="#000"/>
<polygon points="123.10,470.40 117.60,471.20 117.60,469.60" fill="#000"/>
<text x="76.50" y="467.60" font-size="9.6" font-style="italic" text-anchor="start" fill="#111" textLength="17.0" lengthAdjust="spacingAndGlyphs" >28,95</text>
<line x1="85.30" y1="443.00" x2="104.70" y2="443.00" stroke="#555" stroke-width="0.5" />
<line x1="85.30" y1="565.20" x2="104.70" y2="565.20" stroke="#555" stroke-width="0.5" />
<line x1="87.10" y1="443.00" x2="87.10" y2="565.20" stroke="#000" stroke-width="0.5" />
<polygon points="87.10,443.00 87.90,449.50 86.30,449.50" fill="#000"/>
<polygon points="87.10,565.20 86.30,558.70 87.90,558.70" fill="#000"/>
<text x="0" y="0" font-size="9.6" font-style="italic" fill="#111" textLength="10" lengthAdjust="spacingAndGlyphs" transform="translate(84.3 512) rotate(-90)">181</text>
<text x="0" y="0" font-size="4.5" font-style="italic" fill="#111" transform="translate(80.5 501) rotate(-90)">+1</text>
<line x1="104.70" y1="565.70" x2="104.70" y2="595.60" stroke="#555" stroke-width="0.5" />
<line x1="281.50" y1="565.70" x2="281.50" y2="595.60" stroke="#555" stroke-width="0.5" />
<line x1="104.70" y1="593.60" x2="281.50" y2="593.60" stroke="#000" stroke-width="0.5" />
<polygon points="104.70,593.60 111.20,592.80 111.20,594.40" fill="#000"/>
<polygon points="281.50,593.60 275.00,594.40 275.00,592.80" fill="#000"/>
<text x="190.50" y="590.60" font-size="9.6" font-style="italic" text-anchor="middle" fill="#111" textLength="10.5" lengthAdjust="spacingAndGlyphs" >261</text>
<text x="196.50" y="586.80" font-size="4.5" font-style="italic" text-anchor="start" fill="#111" >+2</text>
</g>
<g id="iso" stroke-linejoin="round" stroke-linecap="round">
<path d="M537.6,292.03 L537.6,422.3 L659.0,492.2 L740.4,445.2 L740.4,314.77" stroke="#000" stroke-width="1.8" fill="#fff" />
<line x1="539.30" y1="293.00" x2="539.30" y2="423.28" stroke="#222" stroke-width="1.0" />
<line x1="542.30" y1="294.70" x2="542.30" y2="425.01" stroke="#000" stroke-width="1.3" />
<line x1="548.60" y1="298.28" x2="548.60" y2="428.63" stroke="#000" stroke-width="1.3" />
<line x1="551.70" y1="300.04" x2="551.70" y2="430.42" stroke="#000" stroke-width="1.3" />
<line x1="558.00" y1="303.62" x2="558.00" y2="434.05" stroke="#222" stroke-width="1.5" />
<line x1="561.00" y1="305.33" x2="561.00" y2="435.77" stroke="#000" stroke-width="1.5" />
<line x1="633.90" y1="346.74" x2="633.90" y2="477.75" stroke="#000" stroke-width="1.3" />
<line x1="636.90" y1="348.44" x2="636.90" y2="479.48" stroke="#000" stroke-width="1.8" />
<line x1="643.40" y1="352.14" x2="643.40" y2="483.22" stroke="#000" stroke-width="1.2" />
<line x1="646.30" y1="353.78" x2="646.30" y2="484.89" stroke="#000" stroke-width="1.9" />
<line x1="652.50" y1="357.31" x2="652.50" y2="488.46" stroke="#000" stroke-width="1.2" />
<line x1="655.30" y1="358.90" x2="655.30" y2="490.07" stroke="#000" stroke-width="1.8" />
<line x1="657.30" y1="360.03" x2="657.30" y2="491.22" stroke="#aaa" stroke-width="0.7" />
<line x1="660.90" y1="359.92" x2="660.90" y2="490.30" stroke="#b0b0b0" stroke-width="1.3" />
<line x1="665.00" y1="357.59" x2="665.00" y2="488.74" stroke="#000" stroke-width="1.9" />
<line x1="668.00" y1="355.89" x2="668.00" y2="487.00" stroke="#2a2a2a" stroke-width="1.2" />
<line x1="674.72" y1="352.07" x2="674.72" y2="483.12" stroke="#000" stroke-width="1.9" />
<line x1="677.72" y1="350.37" x2="677.72" y2="481.39" stroke="#2a2a2a" stroke-width="1.2" />
<line x1="684.44" y1="346.55" x2="684.44" y2="477.51" stroke="#000" stroke-width="1.9" />
<line x1="687.44" y1="344.85" x2="687.44" y2="475.78" stroke="#2a2a2a" stroke-width="1.2" />
<line x1="694.16" y1="341.03" x2="694.16" y2="471.90" stroke="#000" stroke-width="1.9" />
<line x1="697.16" y1="339.33" x2="697.16" y2="470.17" stroke="#2a2a2a" stroke-width="1.2" />
<line x1="703.88" y1="335.51" x2="703.88" y2="466.29" stroke="#000" stroke-width="1.9" />
<line x1="706.88" y1="333.81" x2="706.88" y2="464.55" stroke="#2a2a2a" stroke-width="1.2" />
<line x1="713.60" y1="329.99" x2="713.60" y2="460.67" stroke="#000" stroke-width="1.9" />
<line x1="716.60" y1="328.29" x2="716.60" y2="458.94" stroke="#2a2a2a" stroke-width="1.2" />
<line x1="723.32" y1="324.47" x2="723.32" y2="455.06" stroke="#000" stroke-width="1.9" />
<line x1="726.32" y1="322.77" x2="726.32" y2="453.33" stroke="#2a2a2a" stroke-width="1.2" />
<line x1="733.04" y1="318.95" x2="733.04" y2="449.45" stroke="#000" stroke-width="1.9" />
<line x1="736.04" y1="317.25" x2="736.04" y2="447.72" stroke="#2a2a2a" stroke-width="1.2" />
<path d="M564.6,336.8 Q564.6,335.0 566.1,336.1 L630.0,372.6 Q631.2,373.3 631.2,374.9 V447.6 Q631.2,449.6 629.7,448.4 L565.8000000000001,411.5 Q564.6,410.8 564.6,409.2 Z" stroke="#000" stroke-width="1.5" fill="none" />
<path d="M534.90,288.00 Q534.90,290.50 537.07,291.73 L656.83,359.76 Q659.00,361.00 661.17,359.76 L741.53,314.13 Q743.70,312.90 743.70,310.40 L743.70,311.40 Q743.70,308.90 741.53,307.66 L621.77,239.63 Q619.60,238.40 617.43,239.63 L537.07,285.27 Q534.90,286.50 534.90,289.00 Z" stroke="#000" stroke-width="1.4" fill="#fff" />
<path d="M537.51,285.02 Q534.90,286.50 537.51,287.98 L656.39,355.52 Q659.00,357.00 661.61,355.52 L741.09,310.38 Q743.70,308.90 741.09,307.42 L622.21,239.88 Q619.60,238.40 616.99,239.88 Z" stroke="#555" stroke-width="0.75" fill="#fff" />
<path d="M535.40,288.10 L659.00,358.60 L743.20,310.50" stroke="#888" stroke-width="0.5" fill="none" />
<path d="M535.10,289.50 L535.10,288.00 Q534.90,286.50 537.51,285.02 L616.99,239.88 Q619.60,238.40 622.21,239.88" stroke="#000" stroke-width="1.3" fill="none" />
<path d="M622.21,239.88 L741.09,307.42 Q743.70,308.90 743.50,310.40 L743.50,311.90" stroke="#000" stroke-width="1.05" fill="none" />
<path d="M559.6,272.6 C560.5,266 563.5,261 568.4,258.2 L589.4,245.9 C591,245 594.5,244.6 599.9,248.6 C604.5,252 608.5,256.5 608.2,261.5 L594.6,273.5 C588,278.5 581,281.5 574,280.2 C568,279 563,276 559.6,272.6 Z" stroke="#000" stroke-width="1.4" fill="#fff" />
<path d="M571,259 C578,262 584,268 585.9,275.3" stroke="#444" stroke-width="0.65" fill="none" />
<path d="M566.2,275.7 C567,269 571,263.5 576.3,261.2 L597.7,249" stroke="#444" stroke-width="0.65" fill="none" />
<path d="M590.3,248 C597,250 602.5,255 604.3,261.3" stroke="#444" stroke-width="0.65" fill="none" />
<path d="M636.17,253.11 L634.11,252.18 L631.75,251.52 L629.20,251.18 L626.58,251.17 L624.04,251.49 L621.69,252.12 L619.66,253.04 L618.05,254.19 L616.93,255.52 L616.37,256.97 L616.39,258.45 L616.99,259.90 L618.15,261.25 L619.79,262.41 L634.74,270.90 L636.79,271.84 L639.16,272.49 L641.71,272.84 L644.33,272.85 L646.87,272.53 L649.22,271.90 L651.25,270.98 L652.86,269.83 L653.98,268.49 L654.54,267.05 L654.52,265.56 L653.91,264.11 L652.76,262.77 L651.12,261.60 Z" stroke="#000" stroke-width="1.4" fill="#fff" />
<path d="M636.17,250.41 L634.11,249.48 L631.75,248.82 L629.20,248.48 L626.58,248.47 L624.04,248.79 L621.69,249.42 L619.66,250.34 L618.05,251.49 L616.93,252.82 L616.37,254.27 L616.39,255.75 L616.99,257.20 L618.15,258.55 L619.79,259.71 L634.74,268.20 L636.79,269.14 L639.16,269.79 L641.71,270.14 L644.33,270.15 L646.87,269.83 L649.22,269.20 L651.25,268.28 L652.86,267.13 L653.98,265.79 L654.54,264.35 L654.52,262.86 L653.91,261.41 L652.76,260.07 L651.12,258.90 Z" stroke="#000" stroke-width="1.0" fill="#fff" />
<path d="M635.72,252.02 L634.08,251.27 L632.18,250.75 L630.14,250.47 L628.05,250.46 L626.02,250.72 L624.14,251.22 L622.51,251.96 L621.22,252.88 L620.33,253.95 L619.88,255.10 L619.90,256.29 L620.38,257.45 L621.30,258.52 L622.62,259.46 L635.19,266.60 L636.83,267.35 L638.72,267.87 L640.77,268.14 L642.86,268.15 L644.89,267.90 L646.77,267.39 L648.39,266.66 L649.68,265.74 L650.58,264.67 L651.03,263.51 L651.01,262.33 L650.53,261.17 L649.61,260.09 L648.29,259.16 Z" stroke="#000" stroke-width="0.5" fill="none" />
<path d="M622.40,255.00 V244.08 Q622.40,238.86 628.87,238.86 Q635.34,238.86 635.34,244.08 V255.00 A6.47,3.72 0 0 1 622.40,255.00 Z" stroke="#000" stroke-width="1.3" fill="#fff" />
<path d="M623.90,244.78 Q628.87,246.78 633.84,244.78" stroke="#aaa" stroke-width="0.5" fill="none" />
<ellipse cx="643.46" cy="262.21" rx="9.50" ry="4.90" stroke="#000" stroke-width="1.25" fill="#fff" />
<ellipse cx="643.46" cy="261.51" rx="6.90" ry="3.50" stroke="#000" stroke-width="1.0" fill="#fff" />
<path d="M638.46,260.71 V254.51 L641.06,252.91 H646.06 L648.46,254.51 V260.71 L645.46,262.91 H641.46 Z" stroke="#000" stroke-width="1.25" fill="#fff" />
<line x1="641.46" y1="255.51" x2="641.46" y2="262.71" stroke="#000" stroke-width="0.9" />
<line x1="645.46" y1="255.51" x2="645.46" y2="262.71" stroke="#000" stroke-width="0.9" />
<path d="M638.46,254.51 L641.46,255.71 H645.46 L648.46,254.51" stroke="#000" stroke-width="0.8" fill="none" />
<path d="M640.76,253.31 V250.71 Q641.06,248.11 643.46,248.01 Q645.86,248.11 646.16,250.71 V253.31 Z" stroke="#000" stroke-width="1.1" fill="#fff" />
<line x1="640.96" y1="251.31" x2="645.96" y2="251.31" stroke="#444" stroke-width="0.6" />
<ellipse cx="606.60" cy="279.30" rx="12.70" ry="7.30" stroke="#000" stroke-width="1.3" fill="#fff" />
<ellipse cx="606.60" cy="278.10" rx="10.60" ry="5.80" stroke="#000" stroke-width="1.0" fill="#fff" />
<path d="M598.90,267.30 L597.90,275.30 M595.70,267.30 L595.10,274.80" stroke="#000" stroke-width="0.9" fill="none" />
<ellipse cx="597.30" cy="266.80" rx="1.70" ry="1.70" stroke="#000" stroke-width="1.0" fill="#fff" />
<path d="M597.10,274.30 L596.80,279.80 M594.10,274.30 L593.90,278.80" stroke="#000" stroke-width="0.9" fill="none" />
<ellipse cx="595.60" cy="273.80" rx="1.60" ry="1.60" stroke="#000" stroke-width="1.0" fill="#fff" />
<path d="M614.30,267.30 L615.30,275.30 M617.50,267.30 L618.10,274.80" stroke="#000" stroke-width="0.9" fill="none" />
<ellipse cx="615.90" cy="266.80" rx="1.70" ry="1.70" stroke="#000" stroke-width="1.0" fill="#fff" />
<path d="M616.10,274.30 L616.40,279.80 M619.10,274.30 L619.30,278.80" stroke="#000" stroke-width="0.9" fill="none" />
<ellipse cx="617.60" cy="273.80" rx="1.60" ry="1.60" stroke="#000" stroke-width="1.0" fill="#fff" />
<path d="M601.20,273.00 V278.60 Q606.60,281.60 612.00,278.60 V273.00 Z" stroke="#000" stroke-width="1.2" fill="#fff" />
<path d="M598.00,277.40 Q598.20,274.80 601.00,274.00 M615.20,277.40 Q615.00,274.80 612.20,274.00" stroke="#000" stroke-width="0.9" fill="none" />
<path d="M599.70,268.30 A6.9,3.6 0 0 1 613.50,268.30 V271.40 A6.9,3.6 0 0 1 599.70,271.40 Z" stroke="#000" stroke-width="0.8" fill="#0a0a0a" />
<path d="M601.00,270.60 Q606.60,273.00 612.20,270.60" stroke="#444" stroke-width="0.65" fill="none" />
<rect x="604.90" y="269.80" width="3.4" height="1.6" fill="#fff"/>
<ellipse cx="639.10" cy="297.76" rx="12.70" ry="7.30" stroke="#000" stroke-width="1.3" fill="#fff" />
<ellipse cx="639.10" cy="296.56" rx="10.60" ry="5.80" stroke="#000" stroke-width="1.0" fill="#fff" />
<path d="M631.40,285.76 L630.40,293.76 M628.20,285.76 L627.60,293.26" stroke="#000" stroke-width="0.9" fill="none" />
<ellipse cx="629.80" cy="285.26" rx="1.70" ry="1.70" stroke="#000" stroke-width="1.0" fill="#fff" />
<path d="M629.60,292.76 L629.30,298.26 M626.60,292.76 L626.40,297.26" stroke="#000" stroke-width="0.9" fill="none" />
<ellipse cx="628.10" cy="292.26" rx="1.60" ry="1.60" stroke="#000" stroke-width="1.0" fill="#fff" />
<path d="M646.80,285.76 L647.80,293.76 M650.00,285.76 L650.60,293.26" stroke="#000" stroke-width="0.9" fill="none" />
<ellipse cx="648.40" cy="285.26" rx="1.70" ry="1.70" stroke="#000" stroke-width="1.0" fill="#fff" />
<path d="M648.60,292.76 L648.90,298.26 M651.60,292.76 L651.80,297.26" stroke="#000" stroke-width="0.9" fill="none" />
<ellipse cx="650.10" cy="292.26" rx="1.60" ry="1.60" stroke="#000" stroke-width="1.0" fill="#fff" />
<path d="M633.70,291.46 V297.06 Q639.10,300.06 644.50,297.06 V291.46 Z" stroke="#000" stroke-width="1.2" fill="#fff" />
<path d="M630.50,295.86 Q630.70,293.26 633.50,292.46 M647.70,295.86 Q647.50,293.26 644.70,292.46" stroke="#000" stroke-width="0.9" fill="none" />
<path d="M632.20,286.76 A6.9,3.6 0 0 1 646.00,286.76 V289.86 A6.9,3.6 0 0 1 632.20,289.86 Z" stroke="#000" stroke-width="0.8" fill="#0a0a0a" />
<path d="M633.50,289.06 Q639.10,291.46 644.70,289.06" stroke="#444" stroke-width="0.65" fill="none" />
<rect x="637.40" y="288.26" width="3.4" height="1.6" fill="#fff"/>
<ellipse cx="671.60" cy="316.22" rx="12.70" ry="7.30" stroke="#000" stroke-width="1.3" fill="#fff" />
<ellipse cx="671.60" cy="315.02" rx="10.60" ry="5.80" stroke="#000" stroke-width="1.0" fill="#fff" />
<path d="M663.90,304.22 L662.90,312.22 M660.70,304.22 L660.10,311.72" stroke="#000" stroke-width="0.9" fill="none" />
<ellipse cx="662.30" cy="303.72" rx="1.70" ry="1.70" stroke="#000" stroke-width="1.0" fill="#fff" />
<path d="M662.10,311.22 L661.80,316.72 M659.10,311.22 L658.90,315.72" stroke="#000" stroke-width="0.9" fill="none" />
<ellipse cx="660.60" cy="310.72" rx="1.60" ry="1.60" stroke="#000" stroke-width="1.0" fill="#fff" />
<path d="M679.30,304.22 L680.30,312.22 M682.50,304.22 L683.10,311.72" stroke="#000" stroke-width="0.9" fill="none" />
<ellipse cx="680.90" cy="303.72" rx="1.70" ry="1.70" stroke="#000" stroke-width="1.0" fill="#fff" />
<path d="M681.10,311.22 L681.40,316.72 M684.10,311.22 L684.30,315.72" stroke="#000" stroke-width="0.9" fill="none" />
<ellipse cx="682.60" cy="310.72" rx="1.60" ry="1.60" stroke="#000" stroke-width="1.0" fill="#fff" />
<path d="M666.20,309.92 V315.52 Q671.60,318.52 677.00,315.52 V309.92 Z" stroke="#000" stroke-width="1.2" fill="#fff" />
<path d="M663.00,314.32 Q663.20,311.72 666.00,310.92 M680.20,314.32 Q680.00,311.72 677.20,310.92" stroke="#000" stroke-width="0.9" fill="none" />
<path d="M664.70,305.22 A6.9,3.6 0 0 1 678.50,305.22 V308.32 A6.9,3.6 0 0 1 664.70,308.32 Z" stroke="#000" stroke-width="0.8" fill="#0a0a0a" />
<path d="M666.00,307.52 Q671.60,309.92 677.20,307.52" stroke="#444" stroke-width="0.65" fill="none" />
<rect x="669.90" y="306.72" width="3.4" height="1.6" fill="#fff"/>
<path d="M643.30,324.42 L641.24,323.48 L638.88,322.83 L636.32,322.48 L633.71,322.47 L631.17,322.79 L628.82,323.42 L626.79,324.34 L625.17,325.49 L624.06,326.83 L623.50,328.27 L623.52,329.75 L624.12,331.21 L625.27,332.55 L626.92,333.72 L641.72,342.13 L643.78,343.06 L646.15,343.72 L648.70,344.06 L651.31,344.07 L653.86,343.75 L656.20,343.12 L658.23,342.20 L659.85,341.05 L660.96,339.72 L661.53,338.27 L661.50,336.79 L660.90,335.34 L659.75,333.99 L658.10,332.83 Z" stroke="#000" stroke-width="1.4" fill="#fff" />
<path d="M643.30,321.72 L641.24,320.78 L638.88,320.13 L636.32,319.78 L633.71,319.77 L631.17,320.09 L628.82,320.72 L626.79,321.64 L625.17,322.79 L624.06,324.13 L623.50,325.57 L623.52,327.05 L624.12,328.51 L625.27,329.85 L626.92,331.02 L641.72,339.43 L643.78,340.36 L646.15,341.02 L648.70,341.36 L651.31,341.37 L653.86,341.05 L656.20,340.42 L658.23,339.50 L659.85,338.35 L660.96,337.02 L661.53,335.57 L661.50,334.09 L660.90,332.64 L659.75,331.29 L658.10,330.13 Z" stroke="#000" stroke-width="1.0" fill="#fff" />
<path d="M642.85,323.32 L641.20,322.57 L639.31,322.05 L637.27,321.77 L635.18,321.77 L633.14,322.02 L631.27,322.53 L629.64,323.26 L628.35,324.18 L627.46,325.25 L627.01,326.40 L627.03,327.59 L627.51,328.75 L628.43,329.83 L629.75,330.76 L642.17,337.82 L643.82,338.57 L645.71,339.09 L647.75,339.37 L649.84,339.38 L651.88,339.12 L653.76,338.62 L655.38,337.88 L656.67,336.96 L657.57,335.89 L658.01,334.74 L658.00,333.55 L657.52,332.39 L656.59,331.31 L655.28,330.38 Z" stroke="#000" stroke-width="0.5" fill="none" />
<ellipse cx="635.42" cy="326.57" rx="9.50" ry="4.90" stroke="#000" stroke-width="1.25" fill="#fff" />
<ellipse cx="635.42" cy="325.87" rx="6.90" ry="3.50" stroke="#000" stroke-width="1.0" fill="#fff" />
<path d="M630.42,325.07 V318.87 L633.02,317.27 H638.02 L640.42,318.87 V325.07 L637.42,327.27 H633.42 Z" stroke="#000" stroke-width="1.25" fill="#fff" />
<line x1="633.42" y1="319.87" x2="633.42" y2="327.07" stroke="#000" stroke-width="0.9" />
<line x1="637.42" y1="319.87" x2="637.42" y2="327.07" stroke="#000" stroke-width="0.9" />
<path d="M630.42,318.87 L633.42,320.07 H637.42 L640.42,318.87" stroke="#000" stroke-width="0.8" fill="none" />
<path d="M632.72,317.67 V315.07 Q633.02,312.47 635.42,312.37 Q637.82,312.47 638.12,315.07 V317.67 Z" stroke="#000" stroke-width="1.1" fill="#fff" />
<line x1="632.92" y1="315.67" x2="637.92" y2="315.67" stroke="#444" stroke-width="0.6" />
<path d="M644.00,334.72 V324.88 Q644.00,320.03 649.81,320.03 Q655.62,320.03 655.62,324.88 V334.72 A5.81,3.34 0 0 1 644.00,334.72 Z" stroke="#000" stroke-width="1.3" fill="#fff" />
<path d="M645.50,325.58 Q649.81,327.58 654.12,325.58" stroke="#aaa" stroke-width="0.5" fill="none" />
<path d="M681,343.6 L670.1,336.1 C669.5,334 669.6,332 670.5,330 C672,327 674.5,325.3 677.5,323.9 L696.8,310.8 C698.5,309.6 700.5,309.2 702.9,309.4 C706,309.6 708.5,310.6 710.8,312.1 C713.5,313.8 715.6,315.3 716.9,316.9 C718,318.2 718.3,319.8 718.2,321.3 L716,320.4 C714.5,318.5 712,316.8 709,316 L693.3,326.5 C690.5,328.5 688.6,329.6 687.1,330.9 C684.5,333 682.9,335.3 682.3,337.9 C681.7,339.8 681.3,341.6 681,343.6 Z" stroke="#000" stroke-width="1.4" fill="#fff" />
<path d="M692,328.7 L699.8,332.6 V324.3" stroke="#000" stroke-width="1.2" fill="none" />
<path d="M674,337 C674.5,331 677.5,326 681.9,323 L702,312 L710.8,316.4" stroke="#444" stroke-width="0.65" fill="none" />
<path d="M681.9,323 L688.9,326" stroke="#444" stroke-width="0.65" fill="none" />
</g>
<g id="notes">
<text x="321.50" y="578.80" font-size="8.7" font-style="italic" text-anchor="start" fill="#111" textLength="92.0" lengthAdjust="spacingAndGlyphs" >Технические характеристики</text>
<text x="321.50" y="589.00" font-size="8.7" font-style="italic" text-anchor="start" fill="#111" textLength="115.0" lengthAdjust="spacingAndGlyphs" >1 Номинальное напряжение, В – 7,41.</text>
<text x="321.50" y="599.20" font-size="8.7" font-style="italic" text-anchor="start" fill="#111" textLength="109.0" lengthAdjust="spacingAndGlyphs" >2 Номинальная емкость, Ач – 197.</text>
<text x="321.50" y="609.20" font-size="8.7" font-style="italic" text-anchor="start" fill="#111" textLength="158.0" lengthAdjust="spacingAndGlyphs" >3 Масса батареи с электролитом, кг – 32,2±3%.</text>
<text x="321.50" y="618.80" font-size="8.7" font-style="italic" text-anchor="start" fill="#111" textLength="191.5" lengthAdjust="spacingAndGlyphs" >4 Рекомендуемое усилие затяжки крепежных элементов на</text>
<text x="321.50" y="628.00" font-size="8.7" font-style="italic" text-anchor="start" fill="#111" textLength="86.0" lengthAdjust="spacingAndGlyphs" >полюсных выводах 10Н*м.</text>
<text x="546.50" y="582.00" font-size="8.7" font-style="italic" text-anchor="start" fill="#111" textLength="77.0" lengthAdjust="spacingAndGlyphs" >I  *Размеры для справок.</text>
<text x="546.50" y="592.00" font-size="8.7" font-style="italic" text-anchor="start" fill="#111" textLength="129.0" lengthAdjust="spacingAndGlyphs" >II  Место нанесения информации об АКБ.</text>
</g>
</svg>
</body></html>
